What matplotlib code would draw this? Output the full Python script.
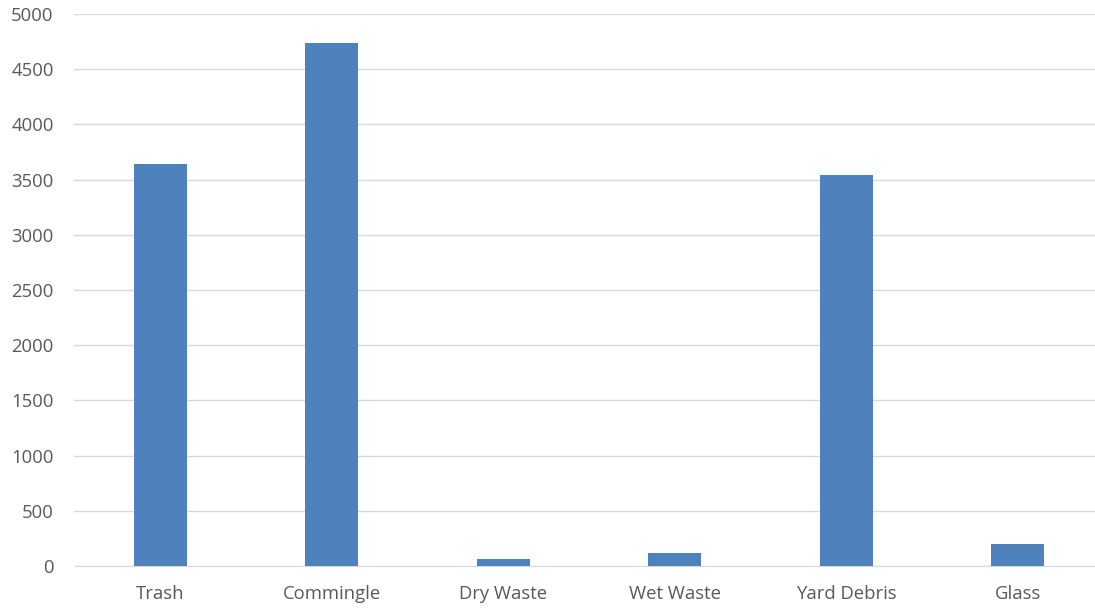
import matplotlib
matplotlib.use("Agg")
import matplotlib.pyplot as plt

categories = ["Trash", "Commingle", "Dry Waste", "Wet Waste", "Yard Debris", "Glass"]
values = [3641, 4737, 63, 122, 3546, 199]
yticks = [0, 500, 1000, 1500, 2000, 2500, 3000, 3500, 4000, 4500, 5000]

plt.rcParams['font.family'] = ['Open Sans', 'DejaVu Sans']
fig = plt.figure(figsize=(10.95, 6.09), dpi=100)
left_px, right_px = 74.5, 1103.5
ax = fig.add_axes([left_px/1095, 1-566/609, (right_px-left_px)/1095, (566-14)/609])
x = list(range(len(categories)))
ax.bar(x, values, width=0.31, color="#4F81BD", zorder=3)
ax.set_xlim(-0.5, len(categories)-0.5)
ax.set_ylim(0, 5000)
ax.set_yticks(yticks)
ax.set_xticks(x)
ax.set_xticklabels(categories)
ax.grid(axis='y', color="#D9D9D9", linewidth=1, zorder=0)
for s in ["top", "right", "left"]:
    ax.spines[s].set_visible(False)
ax.spines["bottom"].set_color("#D9D9D9")
ax.tick_params(axis='both', length=0, labelsize=13.3, colors="#595959")
ax.tick_params(axis='y', pad=15)
ax.tick_params(axis='x', pad=14)
fig.savefig("out.png", dpi=100)
